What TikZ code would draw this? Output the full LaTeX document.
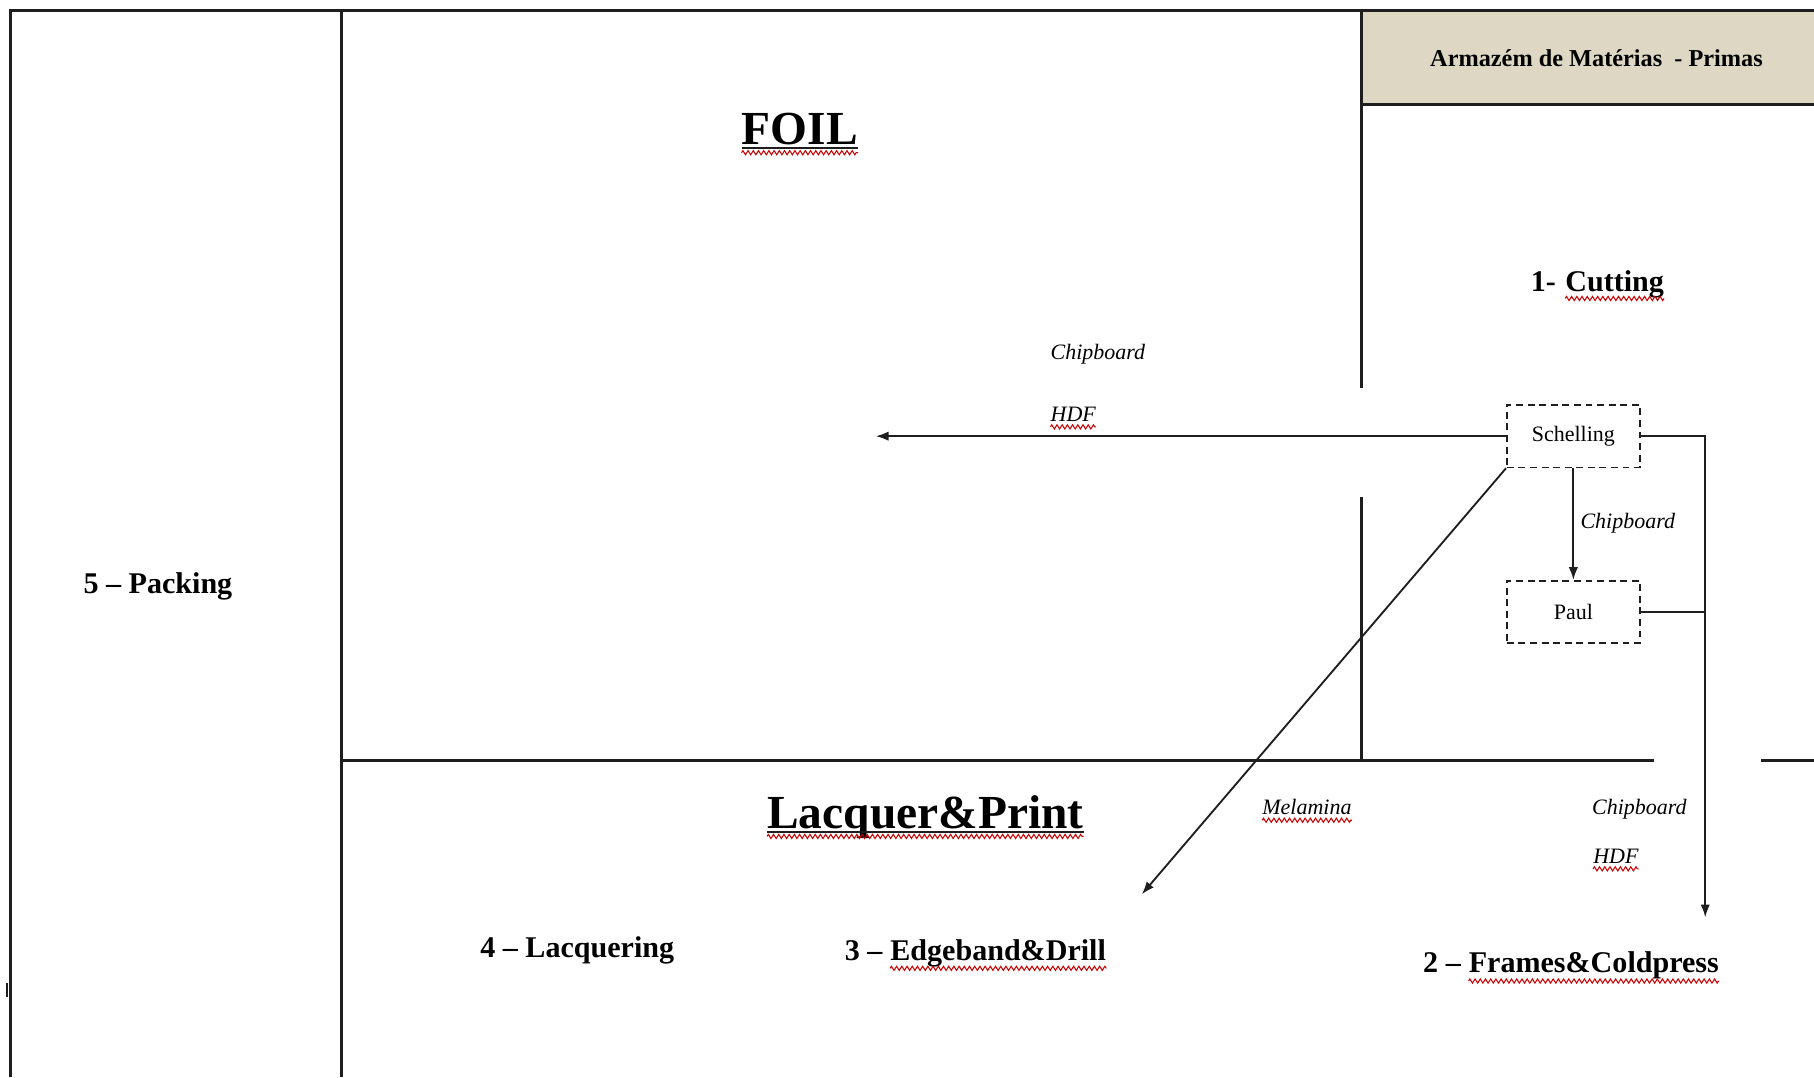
\documentclass[tikz,border=0pt]{standalone}
\usepackage{fontspec}
\setmainfont{Liberation Serif}
\usetikzlibrary{arrows.meta,decorations.pathmorphing}
\definecolor{headerfill}{RGB}{221,215,196}
\definecolor{ink}{RGB}{30,30,30}

\begin{document}
\begin{tikzpicture}[x=1pt,y=-1pt,
  wall/.style={line width=2.6pt, draw=ink},
  flow/.style={line width=1.6pt, draw=ink, -{Latex[length=11pt,width=8pt]}},
  link/.style={line width=1.6pt, draw=ink},
  machine/.style={draw=ink, dash pattern=on 6pt off 4pt, line width=1.4pt,
    minimum width=115pt, minimum height=54pt, inner sep=0pt,
    font=\fontsize{19}{22}\selectfont},
  area/.style={font=\bfseries\fontsize{26}{30}\selectfont, inner sep=0pt, anchor=base west},
  title/.style={font=\bfseries\fontsize{41}{46}\selectfont, inner sep=0pt, anchor=base west},
  material/.style={font=\itshape\fontsize{19}{22}\selectfont, inner sep=0pt, anchor=base west},
  spell/.style={draw=red!80!black, line width=0.9pt, decorate,
    decoration={zigzag, segment length=4.5pt, amplitude=1.8pt}}
]
\useasboundingbox (0,0) rectangle (1568,931);

% raw-material store header
\fill[headerfill] (1177,9) rectangle (1568,90);
\node[font=\bfseries\fontsize{21}{24}\selectfont] (store) at (1380,50) {Armazém de Matérias\ \ - Primas};

% walls of the plant
\draw[wall] (9,931) -- (9,9) -- (1568,9);
\draw[wall] (295,9) -- (295,931);
\draw[wall] (1177,9) -- (1177,335);
\draw[wall] (1177,430) -- (1177,657);
\draw[wall] (1177,90) -- (1568,90);
\draw[wall] (295,657) -- (1430,657);
\draw[wall] (1522,657) -- (1568,657);
\draw[line width=2.2pt, draw=ink] (6,850) -- (6,862);

% section titles
\node[title] (foil) at (641,125) {FOIL};
\draw[line width=1.8pt, draw=ink] ([yshift=-3pt]foil.base west) -- ([yshift=-3pt]foil.base east);
\draw[spell] ([yshift=-7pt]foil.base west) -- ([yshift=-7pt]foil.base east);

\node[title] (lp) at (663,716) {Lacquer\&Print};
\draw[line width=1.8pt, draw=ink] ([yshift=-3pt]lp.base west) -- ([yshift=-3pt]lp.base east);
\draw[spell] ([yshift=-7pt]lp.base west) -- ([yshift=-7pt]lp.base east);

% production areas
\node[area] (cutA) at (1323,252) {1-\hspace*{0.3em}};
\node[area] (cutB) at (cutA.base east) {Cutting};
\draw[spell] ([yshift=-6pt]cutB.base west) -- ([yshift=-6pt]cutB.base east);

\node[area] (pack) at (72,513) {5 -- Packing};
\node[area] (lacq) at (415,828) {4 -- Lacquering};

\node[area] (edgeA) at (730,830) {3 --\hspace*{0.25em}};
\node[area] (edgeB) at (edgeA.base east) {Edgeband\&Drill};
\draw[spell] ([yshift=-7pt]edgeB.base west) -- ([yshift=-7pt]edgeB.base east);

\node[area] (frameA) at (1230,841) {2 --\hspace*{0.25em}};
\node[area] (frameB) at (frameA.base east) {Frames\&Coldpress};
\draw[spell] ([yshift=-7pt]frameB.base west) -- ([yshift=-7pt]frameB.base east);

% machines
\node[machine] (sch) at (1360,377) {Schelling};
\node[machine] (paul) at (1360,529) {Paul};

% material labels
\node[material] (chip1) at (908,311) {Chipboard};
\node[material] (hdf1) at (908,364) {HDF};
\draw[spell] ([yshift=-5pt]hdf1.base west) -- ([yshift=-5pt]hdf1.base east);
\node[material] (chip2) at (1366,457) {Chipboard};
\node[material] (mel) at (1091,704) {Melamina};
\draw[spell] ([yshift=-5pt]mel.base west) -- ([yshift=-5pt]mel.base east);
\node[material] (chip3) at (1376,704) {Chipboard};
\node[material] (hdf2) at (1377,746) {HDF};
\draw[spell] ([yshift=-5pt]hdf2.base west) -- ([yshift=-5pt]hdf2.base east);

% material flows
\coordinate (foilIn) at (757,376);
\coordinate (edgeIn) at (987,773);
\coordinate (frameIn) at (1474,793);
\draw[flow] (sch.west) -- (sch.west -| foilIn);
\draw[flow] (sch.south) -- (paul.north);
\draw[flow] (sch.south west) -- (edgeIn);
\draw[flow] (sch.east) -| (frameIn);
\draw[link] (paul.east) -- (paul.east -| frameIn);
\end{tikzpicture}
\end{document}
